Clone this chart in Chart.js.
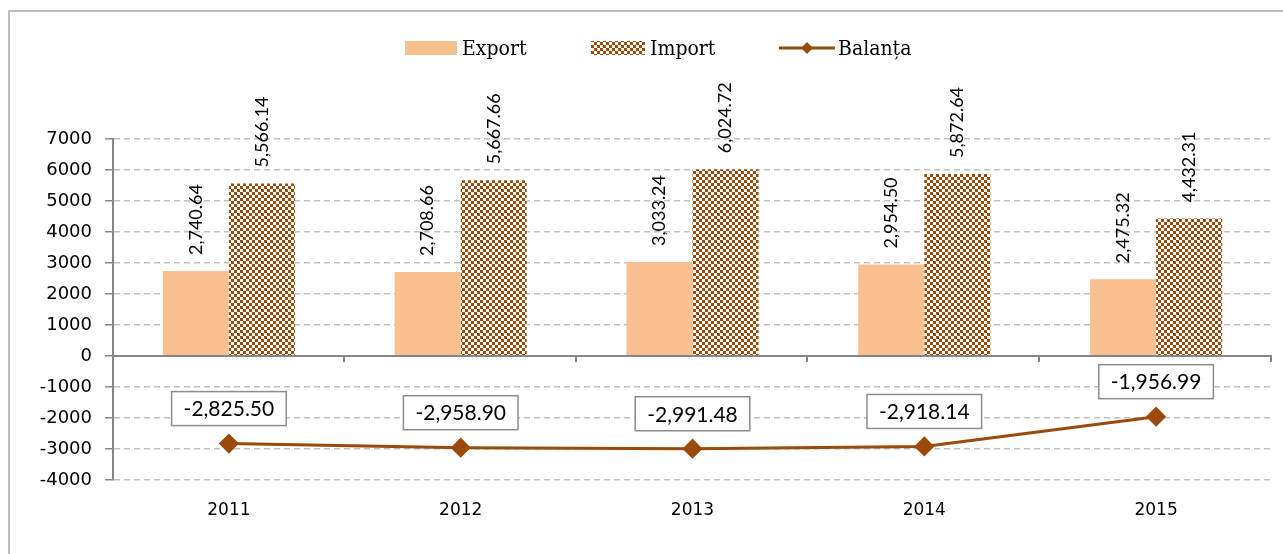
<!DOCTYPE html>
<html>
<head>
<meta charset="utf-8">
<script src="https://cdn.jsdelivr.net/npm/chart.js"></script>
<style>
  html, body { margin: 0; padding: 0; background: #fff; }
  #wrap { width: 1283px; height: 554px; }
</style>
</head>
<body>
<div id="wrap"><canvas id="myChart" width="1283" height="554"></canvas></div>
<script>
// date
const years = ['2011', '2012', '2013', '2014', '2015'];
const exportVals = [2740.64, 2708.66, 3033.24, 2954.50, 2475.32];
const importVals = [5566.14, 5667.66, 6024.72, 5872.64, 4432.31];
const balantaVals = [-2825.50, -2958.90, -2991.48, -2918.14, -1956.99];
const yTicks = [7000, 6000, 5000, 4000, 3000, 2000, 1000, 0, -1000, -2000, -3000, -4000];

const orange = '#fac090';
const brown = '#9a4a0b';
const gridGray = '#c0c0c0';
const axisGray = '#868686';

// model tabla de sah pentru Import
function makeChecker() {
    const c = document.createElement('canvas');
    c.width = 6; c.height = 6;
    const g = c.getContext('2d');
    g.fillStyle = '#fff';
    g.fillRect(0, 0, 6, 6);
    g.fillStyle = brown;
    g.fillRect(0, 0, 3, 3);
    g.fillRect(3, 3, 3, 3);
    return g.createPattern(c, 'repeat');
}
const checker = makeChecker();

function fmt(v) {
    return v.toLocaleString('en-US', { minimumFractionDigits: 2, maximumFractionDigits: 2 });
}

// chenar, legenda, linia zero si etichete
const decor = {
    id: 'decor',
    beforeDraw(chart) {
        const c = chart.ctx;
        c.save();
        c.strokeStyle = '#a6a6a6';
        c.lineWidth = 1.5;
        c.beginPath();
        c.moveTo(9, 560);
        c.lineTo(9, 11);
        c.lineTo(1290, 11);
        c.stroke();
        c.restore();
    },
    afterDatasetsDraw(chart) {
        const c = chart.ctx;
        const area = chart.chartArea;
        const y = chart.scales.y;
        const y0 = y.getPixelForValue(0);
        c.save();

        // linia zero
        c.strokeStyle = axisGray;
        c.lineWidth = 2;
        c.beginPath();
        c.moveTo(area.left, y0);
        c.lineTo(area.right, y0);
        const step = (area.right - area.left) / years.length;
        for (let i = 1; i <= years.length; i++) {
            const bx = Math.round(area.left + i * step) - 1;
            c.moveTo(bx, y0);
            c.lineTo(bx, y0 + 6);
        }
        c.stroke();

        // etichete bare
        c.fillStyle = '#000';
        c.font = '18px Lato';
        c.textAlign = 'left';
        c.textBaseline = 'middle';
        [0, 1].forEach(function (di) {
            const meta = chart.getDatasetMeta(di);
            const vals = chart.data.datasets[di].data;
            meta.data.forEach(function (bar, i) {
                c.save();
                c.translate(bar.x, bar.y - 16);
                c.rotate(-Math.PI / 2);
                c.fillText(fmt(vals[i]), 0, 0);
                c.restore();
            });
        });

        // etichete balanta in casete
        const lineMeta = chart.getDatasetMeta(2);
        c.font = '21px Lato';
        c.textAlign = 'center';
        lineMeta.data.forEach(function (pt, i) {
            const txt = fmt(balantaVals[i]);
            const w = c.measureText(txt).width + 24;
            const h = 34;
            const cy = pt.y - 35;
            c.fillStyle = '#fff';
            c.fillRect(pt.x - w / 2, cy - h / 2, w, h);
            c.strokeStyle = '#8c8c8c';
            c.lineWidth = 1.5;
            c.strokeRect(pt.x - w / 2, cy - h / 2, w, h);
            c.fillStyle = '#000';
            c.fillText(txt, pt.x, cy + 1);
        });

        // legenda
        c.font = '21px "DejaVu Serif Condensed", "Liberation Serif"';
        c.textAlign = 'left';
        c.textBaseline = 'alphabetic';
        c.fillStyle = orange;
        c.fillRect(405, 41, 52, 14);
        c.fillStyle = '#000';
        c.fillText('Export', 462, 55);
        c.fillStyle = checker;
        c.fillRect(591, 41, 54, 14);
        c.fillStyle = '#000';
        c.fillText('Import', 650, 55);
        c.strokeStyle = brown;
        c.lineWidth = 3;
        c.beginPath();
        c.moveTo(779, 48);
        c.lineTo(835, 48);
        c.stroke();
        c.fillStyle = brown;
        c.beginPath();
        c.moveTo(807, 42); c.lineTo(813, 48); c.lineTo(807, 54); c.lineTo(801, 48);
        c.closePath();
        c.fill();
        c.fillStyle = '#000';
        c.fillText('Balanța', 838, 55);

        c.restore();
    }
};

const ctx = document.getElementById('myChart');

const myChart = new Chart(ctx, {
    type: 'bar',
    data: {
        labels: years,
        datasets: [{
            label: 'Export',
            data: exportVals,
            backgroundColor: orange,
            categoryPercentage: 0.57,
            barPercentage: 1.0,
            order: 2
        }, {
            label: 'Import',
            data: importVals,
            backgroundColor: checker,
            categoryPercentage: 0.57,
            barPercentage: 1.0,
            order: 2
        }, {
            type: 'line',
            label: 'Balanța',
            data: balantaVals,
            borderColor: brown,
            backgroundColor: brown,
            borderWidth: 3,
            pointStyle: 'rectRot',
            pointRadius: 8,
            pointHoverRadius: 8,
            tension: 0,
            order: 1
        }]
    },
    options: {
        responsive: false,
        animation: false,
        layout: { padding: { top: 139, right: 3, left: 0, bottom: 0 } },
        plugins: {
            legend: { display: false },
            tooltip: { enabled: false }
        },
        scales: {
            x: {
                grid: { display: false },
                border: { display: false },
                ticks: { color: '#000', font: { family: 'DejaVu Sans', size: 17 }, padding: 12 },
                afterFit(scale) { scale.height = 74; }
            },
            y: {
                min: -4000,
                max: 7000,
                afterBuildTicks(scale) {
                    scale.ticks = yTicks.map(function (v) { return { value: v }; });
                },
                grid: {
                    color: gridGray,
                    lineWidth: 1.5,
                    tickColor: axisGray,
                    tickLength: 8,
                    tickBorderDash: [],
                    drawTicks: true
                },
                border: { display: true, color: axisGray, width: 2, dash: [6, 4] },
                ticks: {
                    color: '#000',
                    font: { family: 'DejaVu Sans', size: 18 },
                    padding: 13,
                    callback: function (v) { return String(v); }
                },
                afterFit(scale) { scale.width = 113; }
            }
        }
    },
    plugins: [decor]
});
</script>
</body>
</html>
